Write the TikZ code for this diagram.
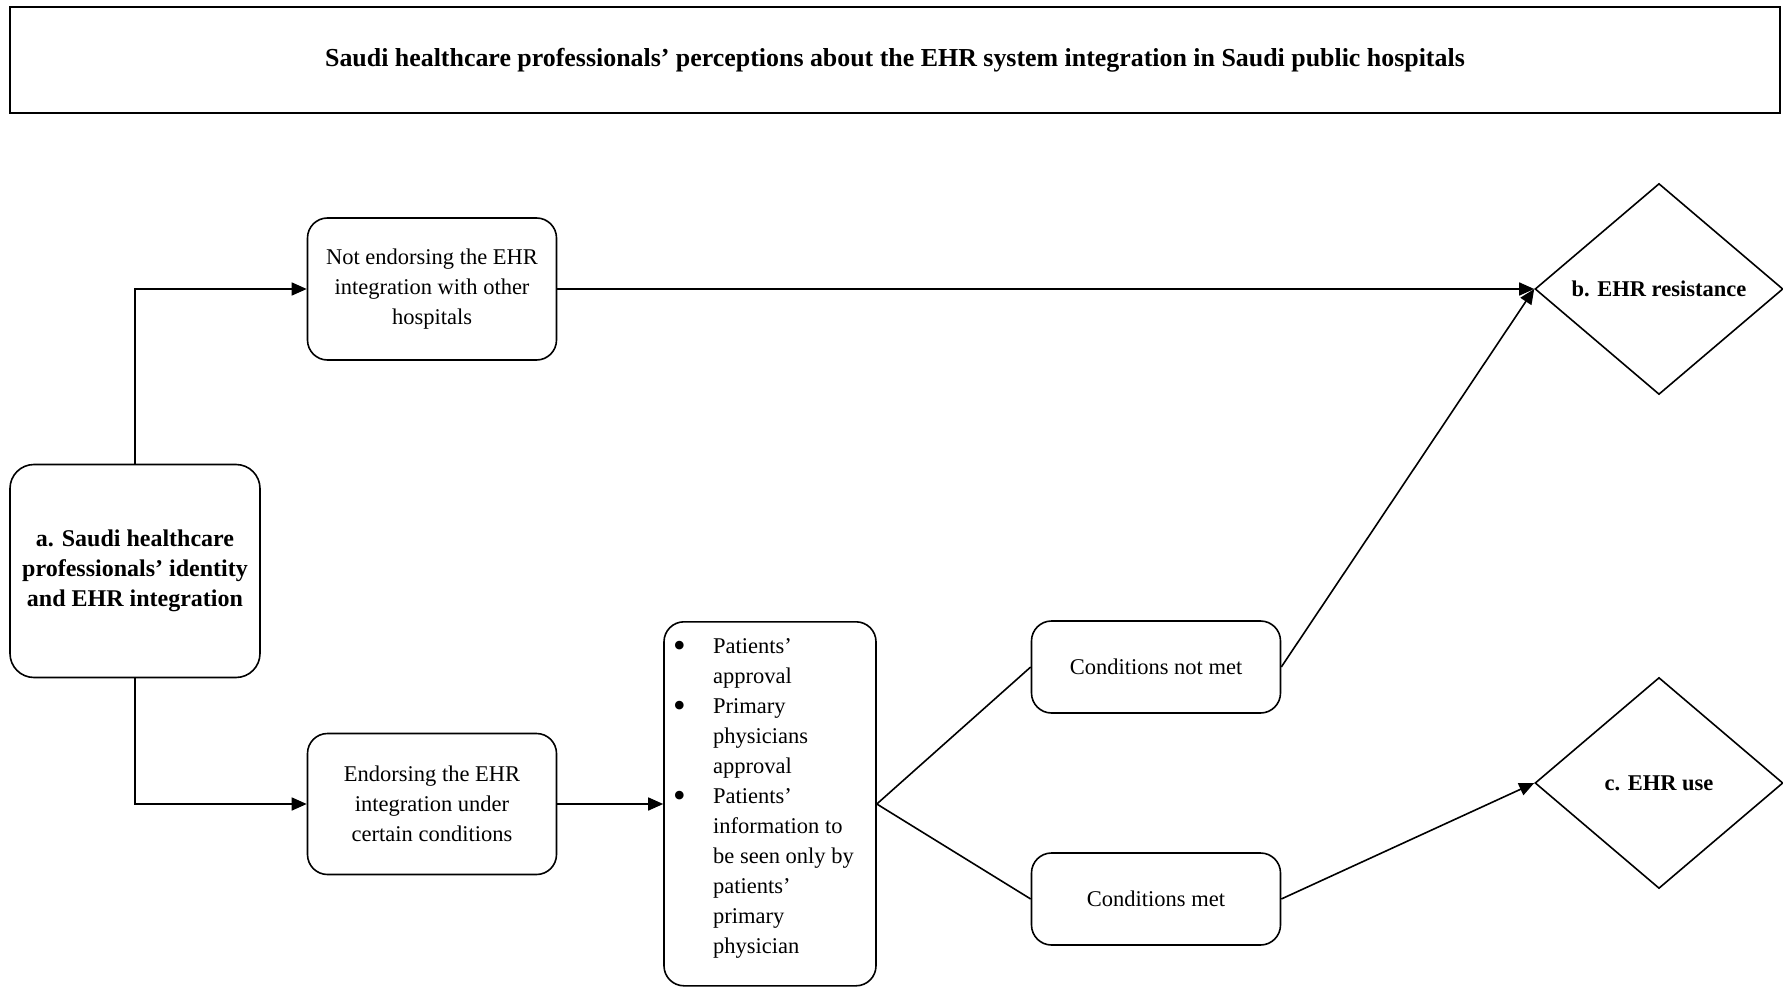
\documentclass[tikz,border=0pt]{standalone}
\usepackage{fontspec}
\setmainfont{Liberation Serif}
\usetikzlibrary{shapes.geometric,arrows.meta}
\newcommand{\bigbullet}{\raisebox{-4.5pt}{\scalebox{1.6}{\textbullet}}}
\begin{document}
\begin{tikzpicture}[x=1pt,y=-1pt,
  txt/.style={font=\fontsize{22.5}{30}\selectfont},
  rbox/.style={draw,line width=1.6pt,rounded corners=20pt,align=center,txt,inner sep=0pt},
  dmd/.style={draw,line width=1.6pt,diamond,aspect=1.175,inner sep=0pt,
    minimum width=248pt,minimum height=211pt,txt,font=\fontsize{22.5}{30}\selectfont\bfseries},
  link/.style={line width=1.6pt},
  arr/.style={link,-{Triangle[length=15pt,width=13pt]}}]
\useasboundingbox (0,0) rectangle (1783,987);

% heading banner
\node[draw,line width=2.4pt,minimum width=1770pt,minimum height=106pt,inner sep=0pt,
      font=\fontsize{25.9}{30}\selectfont\bfseries] (title) at (895,60)
  {Saudi healthcare professionals’ perceptions about the EHR system integration in Saudi public hospitals};

% boxes
\node[rbox,minimum width=250pt,minimum height=213pt,rounded corners=24pt,
      font=\fontsize{24}{30}\selectfont\bfseries] (a) at (135,571)
  {a. Saudi healthcare\\professionals’ identity\\and EHR integration};
\node[rbox,minimum width=249pt,minimum height=142pt] (notend) at (432,289)
  {Not endorsing the EHR\\integration with other\\hospitals};
\node[rbox,minimum width=249pt,minimum height=141pt] (end) at (432,804)
  {Endorsing the EHR\\integration under\\certain conditions};
\node[rbox,minimum width=212pt,minimum height=364pt,anchor=north] (cond) at (770,621) {};
\node[txt,anchor=north west,inner sep=0pt] (condlist) at (673,632)
  {\begin{tabular}{@{}p{40pt}@{}l@{}}
   \bigbullet & Patients’\\
              & approval\\
   \bigbullet & Primary\\
              & physicians\\
              & approval\\
   \bigbullet & Patients’\\
              & information to\\
              & be seen only by\\
              & patients’\\
              & primary\\
              & physician
   \end{tabular}};
\node[rbox,minimum width=249pt,minimum height=92pt] (notmet) at (1156,667) {Conditions not met};
\node[rbox,minimum width=249pt,minimum height=92pt] (met) at (1156,899) {Conditions met};

% outcomes
\node[dmd] (res) at (1659,289) {b. EHR resistance};
\node[dmd] (use) at (1659,783) {c. EHR use};

% connectors
\draw[arr] (a.north) |- (notend.west);
\draw[arr] (a.south) |- (end.west);
\draw[arr] (end.east) -- (cond.west |- end.east);
\draw[arr] (notend.east) -- (res.west);
\coordinate (split) at (cond.east |- end.east);
\draw[link] (split) -- (notmet.west);
\draw[link] (split) -- (met.west);
\draw[arr] (notmet.east) -- (res.west);
\draw[arr] (met.east) -- (use.west);
\end{tikzpicture}
\end{document}
